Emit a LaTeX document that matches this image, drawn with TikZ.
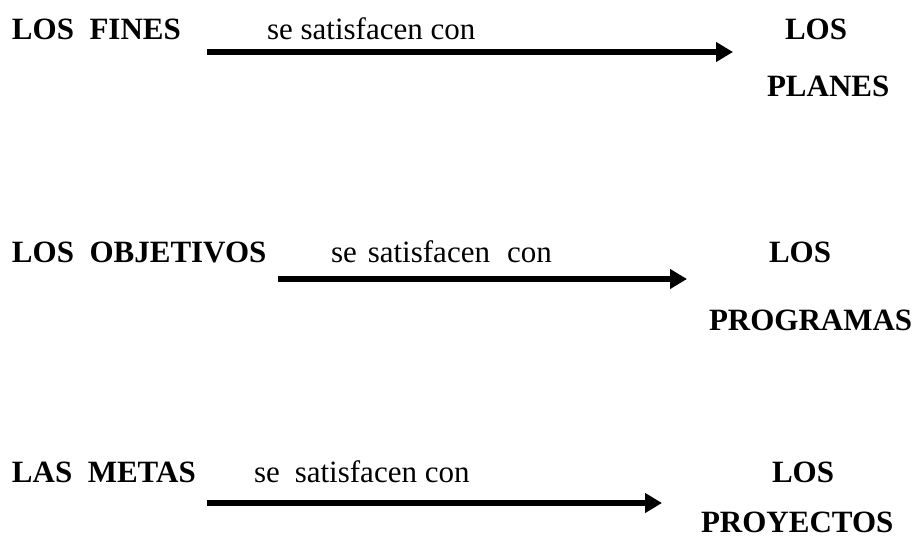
\documentclass[tikz,border=0pt]{standalone}
\usepackage{fontspec}
\setmainfont{Liberation Serif}
\newfontfamily\tnr{Liberation Serif}
\usetikzlibrary{arrows.meta}
\tikzset{
  lbl/.style={inner sep=0pt, outer sep=0pt, anchor=base west, font=\tnr\fontsize{31}{37}\selectfont},
  bold/.style={lbl, font=\tnr\fontsize{31}{37}\selectfont\bfseries},
  conn/.style={line width=6pt, -{Triangle[length=17pt,width=19pt]}}
}
\begin{document}
\begin{tikzpicture}[x=1pt,y=-1pt]
\useasboundingbox (0,0) rectangle (918,541);
% row 1
\node[bold] (fines) at (12,39) {LOS~~FINES};
\node[lbl] (t1) at (267,39) {se satisfacen con};
\node[bold] (los1) at (785,39) {LOS};
\node[bold] (planes) at (767,96) {PLANES};
\coordinate (a1s) at (207,52);
\coordinate (a1e) at (733,52);
\draw[conn] (a1s) -- (a1e);
% row 2
\node[bold] (objetivos) at (12,262) {LOS~~OBJETIVOS};
\node[lbl] (t2) at (331,262) {se\hspace{11pt}satisfacen\hspace{17pt}con};
\node[bold] (los2) at (769,262) {LOS};
\node[bold] (programas) at (709,330) {PROGRAMAS};
\coordinate (a2s) at (278,279);
\coordinate (a2e) at (687,279);
\draw[conn] (a2s) -- (a2e);
% row 3
\node[bold] (metas) at (12,482) {LAS~~METAS};
\node[lbl] (t3) at (254,482) {se\hspace{15pt}satisfacen con};
\node[bold] (los3) at (772,482) {LOS};
\node[bold] (proyectos) at (701,532) {PROYECTOS};
\coordinate (a3s) at (207,503);
\coordinate (a3e) at (662,503);
\draw[conn] (a3s) -- (a3e);
\end{tikzpicture}
\end{document}
